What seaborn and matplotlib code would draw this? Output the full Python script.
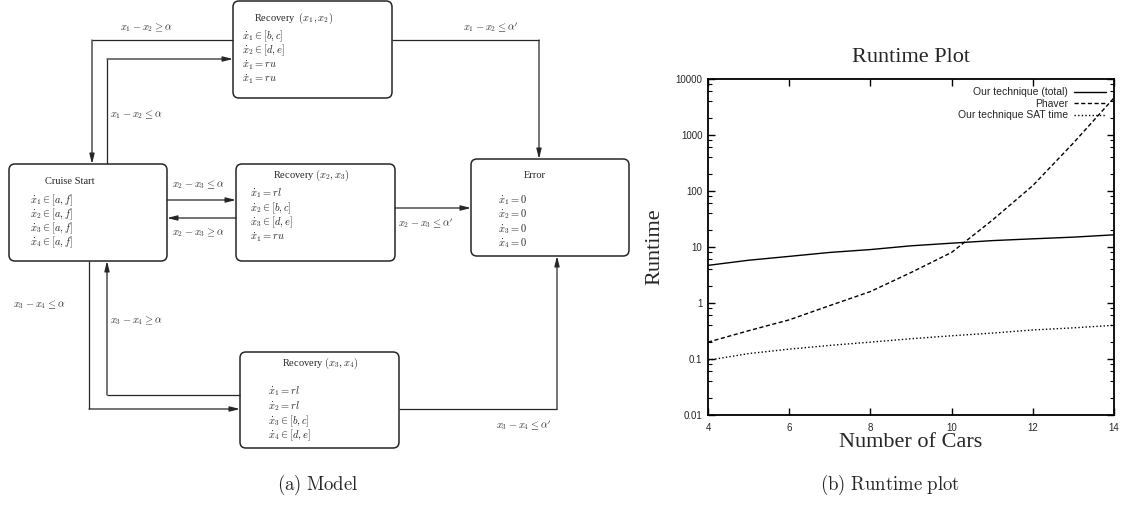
import numpy as np
import pandas as pd
import matplotlib
matplotlib.use("Agg")
import matplotlib.pyplot as plt
from matplotlib.patches import FancyBboxPatch
from matplotlib.ticker import FixedLocator, FixedFormatter, NullFormatter, LogLocator
import seaborn as sns

# ---------------- data ----------------
cars = [4, 5, 6, 7, 8, 9, 10, 11, 12, 13, 14]
total_time = [4.7, 5.8, 6.8, 8.0, 9.0, 10.5, 11.7, 13.0, 14.0, 15.0, 16.5]
phaver_time = [0.2, 0.32, 0.5, 0.9, 1.6, 3.5, 8.0, 30.0, 125.0, 720.0, 4600.0]
sat_time = [0.095, 0.125, 0.15, 0.175, 0.2, 0.23, 0.26, 0.29, 0.33, 0.36, 0.4]
series_names = ["Our technique (total)", "Phaver", "Our technique SAT time"]
y_ticks = [0.01, 0.1, 1, 10, 100, 1000, 10000]
y_tick_labels = ["0.01", "0.1", "1", "10", "100", "1000", "10000"]
x_ticks = [4, 6, 8, 10, 12, 14]

# ---------------- diagram content ----------------
boxes = {
    "r12": (233, 1, 392, 98),
    "cruise": (9, 164, 167, 261),
    "r23": (236, 164, 395, 261),
    "error": (471, 159, 629, 256),
    "r34": (240, 352, 399, 448),
}
box_titles = [
    (294, 18, r"Recovery  $(x_1, x_2)$", "center"),
    (45, 182, "Cruise Start", "left"),
    (311, 175, r"Recovery $(x_2, x_3)$", "center"),
    (524, 175, "Error", "left"),
    (320, 363, r"Recovery $(x_3, x_4)$", "center"),
]
box_items = [
    (242, [36, 50, 65, 79], [r"$\dot{x}_1 \in [b, c]$", r"$\dot{x}_2 \in [d, e]$",
                             r"$\dot{x}_1 = ru$", r"$\dot{x}_1 = ru$"]),
    (30, [200, 214, 228, 242], [r"$\dot{x}_1 \in [a, f]$", r"$\dot{x}_2 \in [a, f]$",
                                r"$\dot{x}_3 \in [a, f]$", r"$\dot{x}_4 \in [a, f]$"]),
    (250, [193, 208, 222, 237], [r"$\dot{x}_1 = rl$", r"$\dot{x}_2 \in [b, c]$",
                                 r"$\dot{x}_3 \in [d, e]$", r"$\dot{x}_1 = ru$"]),
    (498, [200, 214, 229, 243], [r"$\dot{x}_1 = 0$", r"$\dot{x}_2 = 0$",
                                 r"$\dot{x}_3 = 0$", r"$\dot{x}_4 = 0$"]),
    (268, [391, 406, 421, 435], [r"$\dot{x}_1 = rl$", r"$\dot{x}_2 = rl$",
                                 r"$\dot{x}_3 \in [b, c]$", r"$\dot{x}_4 \in [d, e]$"]),
]
edges = [
    [(233, 40), (92, 40), (92, 164)],
    [(107, 164), (107, 59), (233, 59)],
    [(392, 40), (539, 40), (539, 159)],
    [(167, 200), (236, 200)],
    [(236, 218), (167, 218)],
    [(395, 208), (471, 208)],
    [(89, 261), (89, 409), (240, 409)],
    [(240, 395), (107, 395), (107, 261)],
    [(399, 409), (557, 409), (557, 256)],
]
edge_labels = [
    (120, 28, r"$x_1 - x_2 \geq \alpha$"),
    (110, 115, r"$x_1 - x_2 \leq \alpha$"),
    (463, 27, r"$x_1 - x_2 \leq \alpha'$"),
    (172, 185, r"$x_2 - x_3 \leq \alpha$"),
    (172, 233, r"$x_2 - x_3 \geq \alpha$"),
    (398, 223, r"$x_2 - x_3 \leq \alpha'$"),
    (13, 305, r"$x_3 - x_4 \leq \alpha$"),
    (110, 321, r"$x_3 - x_4 \geq \alpha$"),
    (496, 425, r"$x_3 - x_4 \leq \alpha'$"),
]

# ---------------- style ----------------
sns.set_theme(style="ticks")
plt.rcParams["mathtext.fontset"] = "cm"
plt.rcParams["font.family"] = ["Liberation Serif", "DejaVu Serif"]

W, H = 1134, 515
fig = plt.figure(figsize=(W / 100, H / 100), dpi=100)
fig.patch.set_facecolor("white")

# ---------------- diagram ----------------
ax0 = fig.add_axes([0, 0, 1, 1])
ax0.set_xlim(0, W)
ax0.set_ylim(H, 0)
ax0.axis("off")

lc = "#262626"
for (x0, y0, x1, y1) in boxes.values():
    p = FancyBboxPatch((x0, y0), x1 - x0, y1 - y0,
                       boxstyle="round,pad=0,rounding_size=6",
                       fc="none", ec=lc, lw=1.1)
    ax0.add_patch(p)

fs = 7.5
for x, y, t, ha in box_titles:
    ax0.text(x, y, t, ha=ha, va="center", fontsize=fs, color=lc)
for x, ys, items in box_items:
    for y, t in zip(ys, items):
        ax0.text(x, y, t, ha="left", va="center", fontsize=fs, color=lc)
for x, y, t in edge_labels:
    ax0.text(x, y, t, ha="left", va="center", fontsize=fs, color="#333333")

for pts in edges:
    xs = [p[0] for p in pts]
    ys = [p[1] for p in pts]
    ax0.plot(xs[:-1], ys[:-1], color=lc, lw=0.9, solid_capstyle="butt")
    ax0.annotate("", xy=pts[-1], xytext=pts[-2],
                 arrowprops=dict(arrowstyle="-|>,head_length=0.6,head_width=0.15",
                                 color=lc, lw=0.9, shrinkA=0, shrinkB=0,
                                 mutation_scale=10))

ax0.text(318, 485, r"$\mathrm{(a)\ Model}$", ha="center", va="center", fontsize=13.5)
ax0.text(890, 485, r"$\mathrm{(b)\ Runtime\ plot}$", ha="center", va="center", fontsize=13.5)

# ---------------- runtime plot ----------------
left, right, top, bottom = 708, 1114, 79, 415
ax = fig.add_axes([left / W, 1 - bottom / H, (right - left) / W, (bottom - top) / H])

df = pd.DataFrame({
    "cars": cars * 3,
    "time": total_time + phaver_time + sat_time,
    "series": sum([[n] * len(cars) for n in series_names], []),
})
sns.lineplot(data=df, x="cars", y="time", style="series", hue="series",
             palette=["black"] * 3,
             dashes={series_names[0]: "", series_names[1]: (3, 1.8),
                     series_names[2]: (1, 1.6)},
             lw=1.0, ax=ax)
ax.set_yscale("log")
ax.set_xlim(4, 14)
ax.set_ylim(0.01, 10000)
ax.yaxis.set_major_locator(FixedLocator(y_ticks))
ax.yaxis.set_major_formatter(FixedFormatter(y_tick_labels))
ax.yaxis.set_minor_locator(LogLocator(base=10, subs=[2, 4, 6, 8]))
ax.yaxis.set_minor_formatter(NullFormatter())
ax.xaxis.set_major_locator(FixedLocator(x_ticks))
ax.set_xticklabels([str(v) for v in x_ticks])

for s in ax.spines.values():
    s.set_linewidth(1.3)
    s.set_color("black")
ax.tick_params(which="both", direction="in", top=True, right=True, color="black")
ax.tick_params(which="major", length=5, width=1.0, labelsize=7, pad=4)
ax.tick_params(which="minor", length=3, width=0.8)
for lab in ax.get_xticklabels() + ax.get_yticklabels():
    lab.set_family(["Liberation Sans", "DejaVu Sans"])
ax.tick_params(axis="x", pad=6)

ax.set_title("Runtime Plot", fontsize=16, pad=12)
ax.set_xlabel("Number of Cars", fontsize=16, labelpad=0)
ax.set_ylabel("Runtime", fontsize=16, labelpad=8)

handles, labels = ax.get_legend_handles_labels()
leg = ax.legend(handles, labels, loc="upper right", frameon=False, markerfirst=False,
                prop={"family": ["Liberation Sans", "DejaVu Sans"], "size": 7.5},
                handlelength=3.0, labelspacing=0.15, handletextpad=0.6,
                borderaxespad=0.4)

fig.savefig("out.png", dpi=100)
